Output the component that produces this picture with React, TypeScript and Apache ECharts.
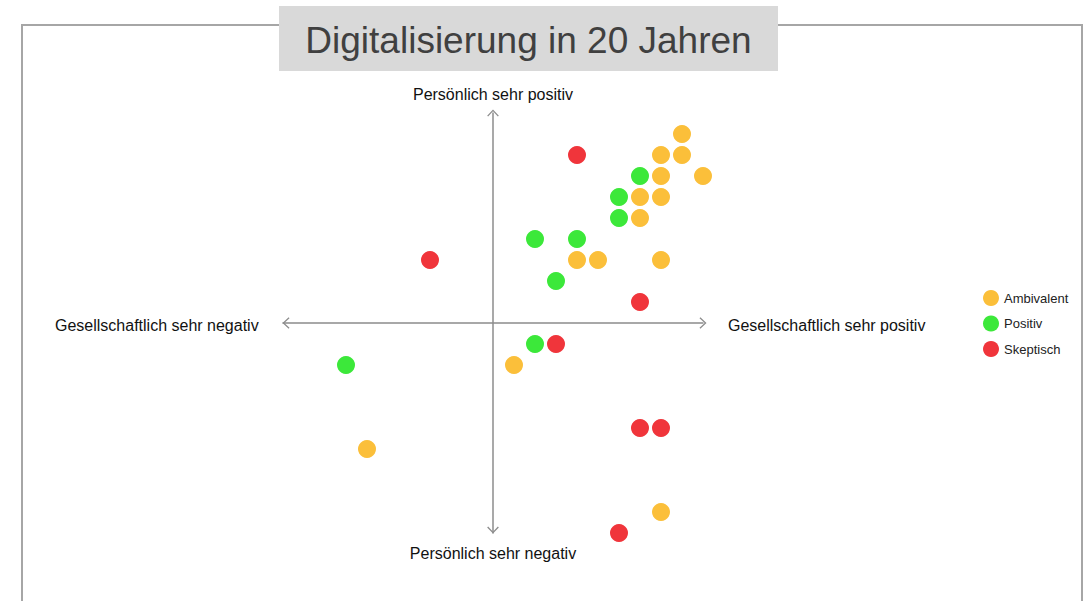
import React, { useEffect, useRef } from "react";
import * as echarts from "echarts";

const seriesNames = ["Ambivalent", "Positiv", "Skeptisch"];
const ambivalent: number[][] = [
  [9, 9], [8, 8], [9, 8], [8, 7], [10, 7], [7, 6], [8, 6], [7, 5],
  [4, 3], [5, 3], [8, 3], [1, -2], [-6, -6], [8, -9],
];
const positiv: number[][] = [
  [7, 7], [6, 6], [6, 5], [2, 4], [4, 4], [3, 2], [2, -1], [-7, -2],
];
const skeptisch: number[][] = [
  [4, 8], [-3, 3], [7, 1], [3, -1], [7, -5], [8, -5], [6, -10],
];
const colors = ["#FBBF3A", "#3CE83A", "#F0353B"];
const titleText = "Digitalisierung in 20 Jahren";
const axisLabels = {
  top: "Persönlich sehr positiv",
  bottom: "Persönlich sehr negativ",
  left: "Gesellschaftlich sehr negativ",
  right: "Gesellschaftlich sehr positiv",
};

const FONT = "'Liberation Sans', Arial, Helvetica, sans-serif";
const chevron = "path://M6,0 L12,6.3 L11,7.2 L6,1.9 L1,7.2 L0,6.3 Z";

export default function App() {
  const ref = useRef<HTMLDivElement>(null);
  useEffect(() => {
    if (!ref.current) return;
    const chart = echarts.init(ref.current, null, { renderer: "svg" });
    const axisCommon = {
      type: "value" as const,
      min: -10,
      max: 10,
      axisLabel: { show: false },
      axisTick: { show: false },
      splitLine: { show: false },
      axisLine: {
        show: true,
        onZero: true,
        symbol: [chevron, chevron],
        symbolSize: [12, 7],
        symbolOffset: [3, 0],
        lineStyle: { color: "#8c8c8c", width: 1.5 },
      },
    };
    const data = [ambivalent, positiv, skeptisch];
    chart.setOption({
      animation: false,
      backgroundColor: "#ffffff",
      textStyle: { fontFamily: FONT },
      grid: { left: 283, top: 113, width: 420, height: 420 },
      xAxis: axisCommon,
      yAxis: axisCommon,
      legend: {
        orient: "vertical",
        left: 978,
        top: 285,
        itemWidth: 16,
        itemHeight: 16,
        itemGap: 9.5,
        icon: "circle",
        textStyle: { fontSize: 13, color: "#222", fontFamily: FONT },
        data: seriesNames,
      },
      series: seriesNames.map((name, i) => ({
        name,
        type: "scatter",
        symbol: "circle",
        symbolSize: 18,
        clip: false,
        itemStyle: { color: colors[i], opacity: 1 },
        data: data[i],
      })),
      graphic: [
        {
          type: "rect",
          shape: { x: 22, y: 25, width: 1060, height: 620 },
          style: { fill: "none", stroke: "#a6a6a6", lineWidth: 2 },
          silent: true,
          z: -10,
        },
        {
          type: "rect",
          shape: { x: 279, y: 6, width: 499, height: 65 },
          style: { fill: "#d9d9d9" },
          silent: true,
          z: 10,
        },
        {
          type: "text",
          x: 528.5,
          y: 40,
          z: 11,
          style: {
            text: titleText,
            fill: "#404040",
            font: `37px ${FONT}`,
            align: "center",
            verticalAlign: "middle",
          },
        },
        {
          type: "text",
          x: 493,
          y: 94,
          style: { text: axisLabels.top, fill: "#111", font: `16px ${FONT}`, align: "center", verticalAlign: "middle" },
        },
        {
          type: "text",
          x: 493,
          y: 553,
          style: { text: axisLabels.bottom, fill: "#111", font: `16px ${FONT}`, align: "center", verticalAlign: "middle" },
        },
        {
          type: "text",
          x: 55,
          y: 325,
          style: { text: axisLabels.left, fill: "#111", font: `16px ${FONT}`, align: "left", verticalAlign: "middle" },
        },
        {
          type: "text",
          x: 728,
          y: 325,
          style: { text: axisLabels.right, fill: "#111", font: `16px ${FONT}`, align: "left", verticalAlign: "middle" },
        },
      ],
    });
    return () => chart.dispose();
  }, []);
  return (
    <div
      ref={ref}
      style={{ position: "absolute", left: 0, top: 0, width: 1091, height: 601 }}
    />
  );
}
